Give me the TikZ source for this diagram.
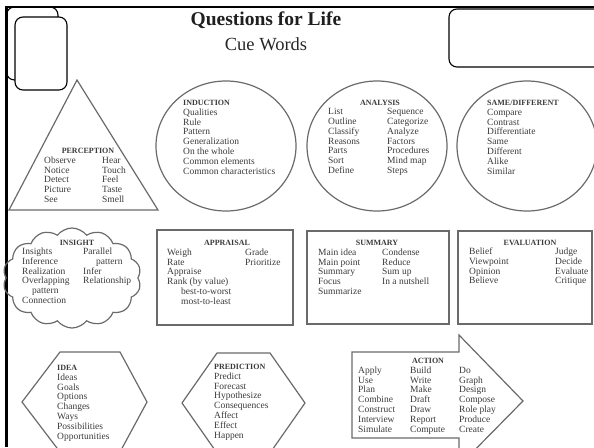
\documentclass[tikz,border=0pt]{standalone}
\usepackage{fontspec}
\setmainfont{Liberation Serif}
\usetikzlibrary{shapes.symbols}
\definecolor{ink}{HTML}{3A3A3A}
\definecolor{edge}{HTML}{6A6A6A}
\begin{document}
\begin{tikzpicture}[x=1pt,y=-1pt,
  shapeline/.style={draw=edge,line width=1.2pt},
  boxline/.style={draw=edge,line width=1.6pt},
  frame/.style={draw=black,line width=1.1pt,rounded corners=8pt},
  words/.style={font=\fontsize{9.5}{9.8}\selectfont,text=ink,inner sep=0pt,align=left,anchor=north west},
  heading/.style={font=\fontsize{8}{9.8}\selectfont\bfseries,text=ink,inner sep=0pt}]
\useasboundingbox (0,0) rectangle (594,447);

% page border
\draw[line width=2.5pt] (5,7) -- (594,7);
\draw[line width=2.5pt] (6.5,7) -- (6.5,447);

% tabs in the top corners
\draw[frame] (6.5,7) rectangle (58,80);
\draw[frame,fill=white] (15,17) rectangle (67,90);
\draw[frame] (449,9) rectangle (604,67);

% title
\node[font=\fontsize{19.5}{22}\selectfont\bfseries,text=black!88,inner sep=0pt,anchor=base] (title) at (266,25.5) {Questions for Life};
\node[font=\fontsize{18.5}{22}\selectfont,text=black!85,inner sep=0pt,anchor=base] (subtitle) at (266,50) {Cue Words};

% outlines
\draw[shapeline] (77,80) -- (158,210) -- (9,210) -- cycle;
\draw[shapeline] (226,146) ellipse [x radius=70, y radius=65];
\draw[shapeline] (377,146) ellipse [x radius=70, y radius=65];
\draw[shapeline] (527,146) ellipse [x radius=70, y radius=65];
\node[cloud,shapeline,cloud puffs=14,cloud puff arc=105,cloud ignores aspect,
  minimum width=138pt,minimum height=100pt,inner sep=0pt] (insightcloud) at (72,278) {};
\draw[boxline] (157,230) rectangle (293,325);
\draw[boxline] (307,231) rectangle (449,324);
\draw[boxline] (458,231) rectangle (592,324);
\draw[shapeline] (60,352) -- (120,352) -- (147,402) -- (120,452) -- (60,452) -- (22,402) -- cycle;
\draw[shapeline] (217,353) -- (270,353) -- (305,403) -- (270,453) -- (217,453) -- (182,403) -- cycle;
\draw[shapeline] (352,352) -- (459,352) -- (459,335) -- (523,401) -- (459,466) -- (459,438) -- (352,438) -- cycle;

% PERCEPTION
\node[heading,anchor=base] (perc) at (88,153.6) {PERCEPTION};
\node[words] (percA) at (44,156.2) {\strut Observe\\Notice\\Detect\\Picture\\See};
\node[words] (percB) at (102,156.2) {\strut Hear\\Touch\\Feel\\Taste\\Smell};

% INDUCTION
\node[heading,anchor=base west] (ind) at (183,105.6) {INDUCTION};
\node[words] (indA) at (183,108.2) {\strut Qualities\\Rule\\Pattern\\Generalization\\On the whole\\Common elements\\Common characteristics};

% ANALYSIS
\node[heading,anchor=base] (ana) at (380,105.6) {ANALYSIS};
\node[words] (anaA) at (328,107.6) {\strut List\\Outline\\Classify\\Reasons\\Parts\\Sort\\Define};
\node[words] (anaB) at (387,107.6) {\strut Sequence\\Categorize\\Analyze\\Factors\\Procedures\\Mind map\\Steps};

% SAME/DIFFERENT
\node[heading,anchor=base west] (same) at (487,105.6) {SAME/DIFFERENT};
\node[words] (sameA) at (487,108.2) {\strut Compare\\Contrast\\Differentiate\\Same\\Different\\Alike\\Similar};

% INSIGHT
\node[heading,anchor=base] (ins) at (77,245.6) {INSIGHT};
\node[words] (insA) at (22,247.4) {\strut Insights\\Inference\\Realization\\Overlapping\\\hspace*{10pt}pattern\\Connection};
\node[words] (insB) at (83,247.4) {\strut Parallel\\\hspace*{13pt}pattern\\Infer\\Relationship};

% APPRAISAL
\node[heading,anchor=base] (app) at (227,245.6) {APPRAISAL};
\node[words] (appA) at (167,248.2) {\strut Weigh\\Rate\\Appraise\\Rank (by value)\\\hspace*{14pt}best-to-worst\\\hspace*{14pt}most-to-least};
\node[words] (appB) at (245,248.2) {\strut Grade\\Prioritize};

% SUMMARY
\node[heading,anchor=base] (sum) at (377,245.6) {SUMMARY};
\node[words] (sumA) at (318,248.2) {\strut Main idea\\Main point\\Summary\\Focus\\Summarize};
\node[words] (sumB) at (382,248.2) {\strut Condense\\Reduce\\Sum up\\In a nutshell};

% EVALUATION
\node[heading,anchor=base] (eva) at (530,245.6) {EVALUATION};
\node[words] (evaA) at (469,247.4) {\strut Belief\\Viewpoint\\Opinion\\Believe};
\node[words] (evaB) at (555,247.4) {\strut Judge\\Decide\\Evaluate\\Critique};

% IDEA
\node[heading,anchor=base west] (idea) at (57,370.6) {IDEA};
\node[words] (ideaA) at (57,373.2) {\strut Ideas\\Goals\\Options\\Changes\\Ways\\Possibilities\\Opportunities};

% PREDICTION
\node[heading,anchor=base west] (pred) at (214,369.6) {PREDICTION};
\node[words] (predA) at (214,372.2) {\strut Predict\\Forecast\\Hypothesize\\Consequences\\Affect\\Effect\\Happen};

% ACTION
\node[heading,anchor=base] (act) at (428,363.6) {ACTION};
\node[words] (actA) at (358,366.2) {\strut Apply\\Use\\Plan\\Combine\\Construct\\Interview\\Simulate};
\node[words] (actB) at (410,366.2) {\strut Build\\Write\\Make\\Draft\\Draw\\Report\\Compute};
\node[words] (actC) at (459,366.2) {\strut Do\\Graph\\Design\\Compose\\Role play\\Produce\\Create};
\end{tikzpicture}
\end{document}
